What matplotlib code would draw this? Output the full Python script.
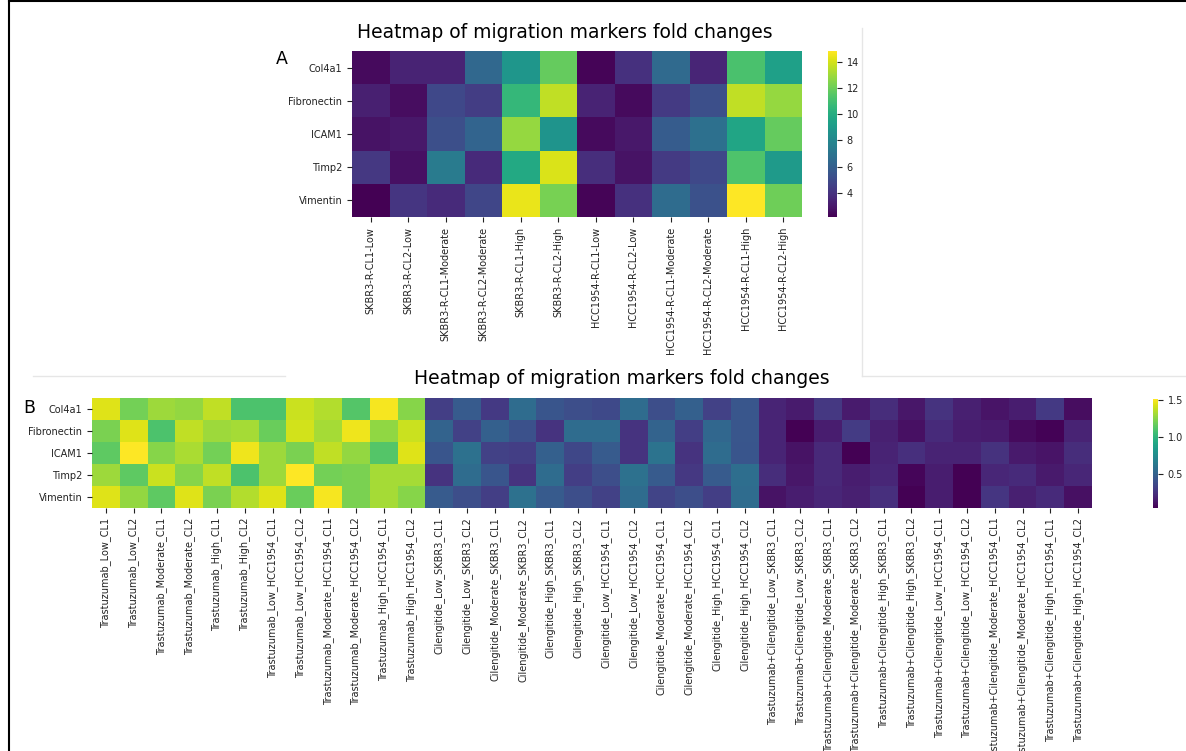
import matplotlib
matplotlib.use('Agg')
import matplotlib.pyplot as plt
from matplotlib.lines import Line2D
import numpy as np

W, H = 1186, 751

markers = ['Col4a1', 'Fibronectin', 'ICAM1', 'Timp2', 'Vimentin']

# panel A: resistant lines
a_samples = ['SKBR3-R-CL1-Low', 'SKBR3-R-CL2-Low', 'SKBR3-R-CL1-Moderate',
             'SKBR3-R-CL2-Moderate', 'SKBR3-R-CL1-High', 'SKBR3-R-CL2-High',
             'HCC1954-R-CL1-Low', 'HCC1954-R-CL2-Low', 'HCC1954-R-CL1-Moderate',
             'HCC1954-R-CL2-Moderate', 'HCC1954-R-CL1-High', 'HCC1954-R-CL2-High']
col4a1_a = [2.5, 3.4, 3.4, 6.4, 8.8, 11.8, 2.3, 3.9, 6.5, 3.5, 11.2, 9.3]
fibronectin_a = [3.3, 2.6, 4.9, 4.4, 10.6, 13.6, 3.4, 2.5, 4.3, 5.2, 13.6, 12.8]
icam1_a = [2.8, 3.0, 5.2, 6.2, 12.8, 8.7, 2.5, 3.0, 5.8, 6.8, 9.6, 11.8]
timp2_a = [4.2, 2.7, 7.4, 3.7, 9.8, 14.1, 3.8, 2.8, 4.3, 4.9, 11.3, 9.0]
vimentin_a = [2.17, 4.1, 3.7, 4.8, 14.4, 12.2, 2.3, 3.9, 6.6, 5.3, 14.81, 12.0]

# panel B: treatments
b_samples = ['Trastuzumab_Low_CL1', 'Trastuzumab_Low_CL2',
             'Trastuzumab_Moderate_CL1', 'Trastuzumab_Moderate_CL2',
             'Trastuzumab_High_CL1', 'Trastuzumab_High_CL2',
             'Trastuzumab_Low_HCC1954_CL1', 'Trastuzumab_Low_HCC1954_CL2',
             'Trastuzumab_Moderate_HCC1954_CL1', 'Trastuzumab_Moderate_HCC1954_CL2',
             'Trastuzumab_High_HCC1954_CL1', 'Trastuzumab_High_HCC1954_CL2',
             'Cilengitide_Low_SKBR3_CL1', 'Cilengitide_Low_SKBR3_CL2',
             'Cilengitide_Moderate_SKBR3_CL1', 'Cilengitide_Moderate_SKBR3_CL2',
             'Cilengitide_High_SKBR3_CL1', 'Cilengitide_High_SKBR3_CL2',
             'Cilengitide_Low_HCC1954_CL1', 'Cilengitide_Low_HCC1954_CL2',
             'Cilengitide_Moderate_HCC1954_CL1', 'Cilengitide_Moderate_HCC1954_CL2',
             'Cilengitide_High_HCC1954_CL1', 'Cilengitide_High_HCC1954_CL2',
             'Trastuzumab+Cilengitide_Low_SKBR3_CL1', 'Trastuzumab+Cilengitide_Low_SKBR3_CL2',
             'Trastuzumab+Cilengitide_Moderate_SKBR3_CL1', 'Trastuzumab+Cilengitide_Moderate_SKBR3_CL2',
             'Trastuzumab+Cilengitide_High_SKBR3_CL1', 'Trastuzumab+Cilengitide_High_SKBR3_CL2',
             'Trastuzumab+Cilengitide_Low_HCC1954_CL1', 'Trastuzumab+Cilengitide_Low_HCC1954_CL2',
             'Trastuzumab+Cilengitide_Moderate_HCC1954_CL1', 'Trastuzumab+Cilengitide_Moderate_HCC1954_CL2',
             'Trastuzumab+Cilengitide_High_HCC1954_CL1', 'Trastuzumab+Cilengitide_High_HCC1954_CL2']
col4a1_b = [1.45, 1.20, 1.30, 1.28, 1.38, 1.10, 1.10, 1.40, 1.35, 1.12, 1.50, 1.25,
            0.30, 0.45, 0.28, 0.55, 0.42, 0.38, 0.36, 0.55, 0.38, 0.48, 0.32, 0.43,
            0.18, 0.14, 0.27, 0.14, 0.22, 0.12, 0.25, 0.16, 0.11, 0.15, 0.28, 0.08]
fibronectin_b = [1.22, 1.45, 1.10, 1.38, 1.30, 1.32, 1.18, 1.42, 1.32, 1.48, 1.27, 1.40,
                 0.50, 0.32, 0.48, 0.40, 0.25, 0.55, 0.55, 0.25, 0.50, 0.30, 0.52, 0.43,
                 0.18, 0.03, 0.15, 0.29, 0.16, 0.09, 0.21, 0.15, 0.14, 0.07, 0.04, 0.17]
icam1_b = [1.15, 1.52, 1.25, 1.33, 1.20, 1.48, 1.30, 1.22, 1.38, 1.28, 1.12, 1.45,
           0.42, 0.58, 0.32, 0.30, 0.48, 0.35, 0.45, 0.25, 0.60, 0.25, 0.55, 0.42,
           0.18, 0.10, 0.20, 0.03, 0.17, 0.23, 0.17, 0.17, 0.24, 0.13, 0.11, 0.22]
timp2_b = [1.30, 1.15, 1.40, 1.25, 1.38, 1.10, 1.30, 1.52, 1.20, 1.22, 1.32, 1.32,
           0.25, 0.55, 0.42, 0.25, 0.55, 0.30, 0.38, 0.58, 0.45, 0.27, 0.45, 0.56,
           0.22, 0.12, 0.20, 0.15, 0.19, 0.05, 0.15, 0.03, 0.19, 0.21, 0.13, 0.19]
vimentin_b = [1.45, 1.28, 1.15, 1.45, 1.22, 1.35, 1.45, 1.18, 1.50, 1.22, 1.32, 1.25,
              0.45, 0.38, 0.30, 0.58, 0.45, 0.38, 0.32, 0.55, 0.33, 0.38, 0.30, 0.55,
              0.10, 0.15, 0.19, 0.16, 0.23, 0.03, 0.15, 0.03, 0.26, 0.16, 0.21, 0.09]

data_a = np.array([col4a1_a, fibronectin_a, icam1_a, timp2_a, vimentin_a])
data_b = np.array([col4a1_b, fibronectin_b, icam1_b, timp2_b, vimentin_b])


def box(l, t, r, b):
    # pixel box -> figure fraction rect
    return [l / W, 1 - b / H, (r - l) / W, (b - t) / H]


def heat(ax, cax, data, cols):
    mesh = ax.pcolormesh(data, cmap='viridis')
    ax.set_xlim(0, data.shape[1])
    ax.set_ylim(data.shape[0], 0)
    ax.set_xticks(np.arange(len(cols)) + 0.5)
    ax.set_xticklabels(cols, rotation=90)
    ax.set_yticks(np.arange(len(markers)) + 0.5)
    ax.set_yticklabels(markers)
    for s in ax.spines.values():
        s.set_visible(False)
    ax.tick_params(labelsize=7, length=3.5, width=0.8, colors='#222222')
    cb = fig.colorbar(mesh, cax=cax)
    cb.outline.set_visible(False)
    cax.tick_params(labelsize=7, length=3.5, width=0.8, colors='#222222')
    return cb


fig = plt.figure(figsize=(W / 100, H / 100), dpi=100)

# panel A
ax_a = fig.add_axes(box(352, 51, 802, 217))
cax_a = fig.add_axes(box(828, 51, 837, 217))
heat(ax_a, cax_a, data_a, a_samples)
cax_a.set_yticks([4, 6, 8, 10, 12, 14])
fig.text(565 / W, 1 - 32 / H, 'Heatmap of migration markers fold changes',
         ha='center', va='center', fontsize=13.5)
fig.text(282 / W, 1 - 59 / H, 'A', ha='center', va='center', fontsize=12.5)

# panel B
ax_b = fig.add_axes(box(92, 398, 1092, 508))
cax_b = fig.add_axes(box(1153, 399, 1158, 508))
cb_b = heat(ax_b, cax_b, data_b, b_samples)
cax_b.set_yticks([0.5, 1.0, 1.5])
cb_b.set_label('Expression Level', fontsize=7, color='#222222')
fig.text(622 / W, 1 - 378 / H, 'Heatmap of migration markers fold changes',
         ha='center', va='center', fontsize=13.5)
fig.text(29 / W, 1 - 408 / H, 'B', ha='center', va='center', fontsize=12.5)

# faint edges of the pasted screenshots
faint = '#e6e6e6'
fig.add_artist(Line2D([33 / W, 285 / W], [1 - 376 / H] * 2, color=faint, lw=1))
fig.add_artist(Line2D([862 / W, 1 - 0.5 / W], [1 - 376 / H] * 2, color=faint, lw=1))
fig.add_artist(Line2D([862 / W] * 2, [1 - 376 / H, 1 - 28 / H], color=faint, lw=1))

# black frame of the figure page
fig.add_artist(Line2D([9 / W] * 2, [0, 1 - 1 / H], color='black', lw=1.5))
fig.add_artist(Line2D([9 / W, 1], [1 - 1 / H] * 2, color='black', lw=1.5))

plt.savefig('out.png', dpi=100)
